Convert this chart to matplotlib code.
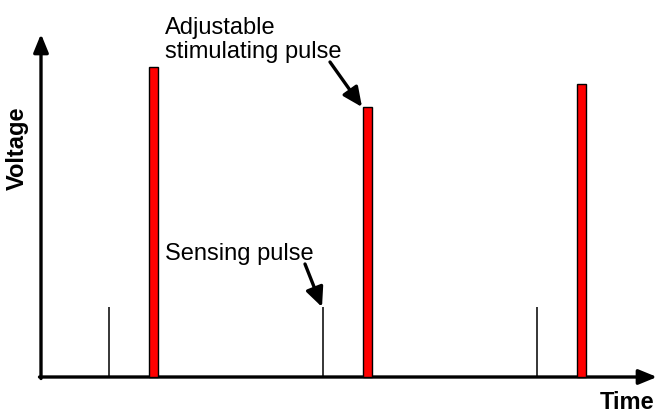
import matplotlib.pyplot as plt

# pulse positions (time) and amplitudes (voltage), in arbitrary plot units
sense_t = [68, 282, 496]
sense_v = [70, 70, 70]
stim_t = [112, 326, 540]
stim_v = [310, 270, 293]

plt.rcParams['font.family'] = ['Liberation Sans', 'DejaVu Sans']

fig = plt.figure(figsize=(6.57, 4.14), dpi=100)
ax = fig.add_axes([0, 0, 1, 1])
ax.set_xlim(-41, 616)
ax.set_ylim(-36, 378)
ax.axis('off')

# axes with arrow heads
ax_arrow = dict(arrowstyle='-|>,head_length=1.1,head_width=0.45', mutation_scale=10,
                lw=2.4, color='black', shrinkA=0, shrinkB=0)
ax.annotate('', xy=(0, 343), xytext=(0, -1.5), arrowprops=ax_arrow)
ax.annotate('', xy=(616, 0), xytext=(-1.5, 0), arrowprops=ax_arrow)

# sensing pulses
ax.vlines(sense_t, 0, sense_v, colors='black', lw=1.1)

# stimulating pulses
ax.bar(stim_t, stim_v, width=9, color='#ff0000', edgecolor='black', linewidth=1.0, zorder=3)

# labels
ax.text(-24, 230, 'Voltage', rotation=90, ha='center', va='center',
        fontsize=17, fontweight='bold')
ax.text(586, -31, 'Time', ha='center', va='baseline', fontsize=17, fontweight='bold')

pt_arrow = dict(arrowstyle='-|>,head_length=1.3,head_width=0.6', mutation_scale=9,
                lw=2.4, color='black', shrinkA=0, shrinkB=0)
ax.text(124, 320, 'Adjustable\nstimulating pulse', ha='left', va='baseline',
        fontsize=17, linespacing=1.1)
ax.annotate('', xy=(stim_t[1] - 5, stim_v[1]), xytext=(289, 315), arrowprops=pt_arrow)

ax.text(124, 118, 'Sensing pulse', ha='left', va='baseline', fontsize=17)
ax.annotate('', xy=(sense_t[1] - 1, sense_v[1]), xytext=(264, 113), arrowprops=pt_arrow)

fig.savefig('out.png', dpi=100)
